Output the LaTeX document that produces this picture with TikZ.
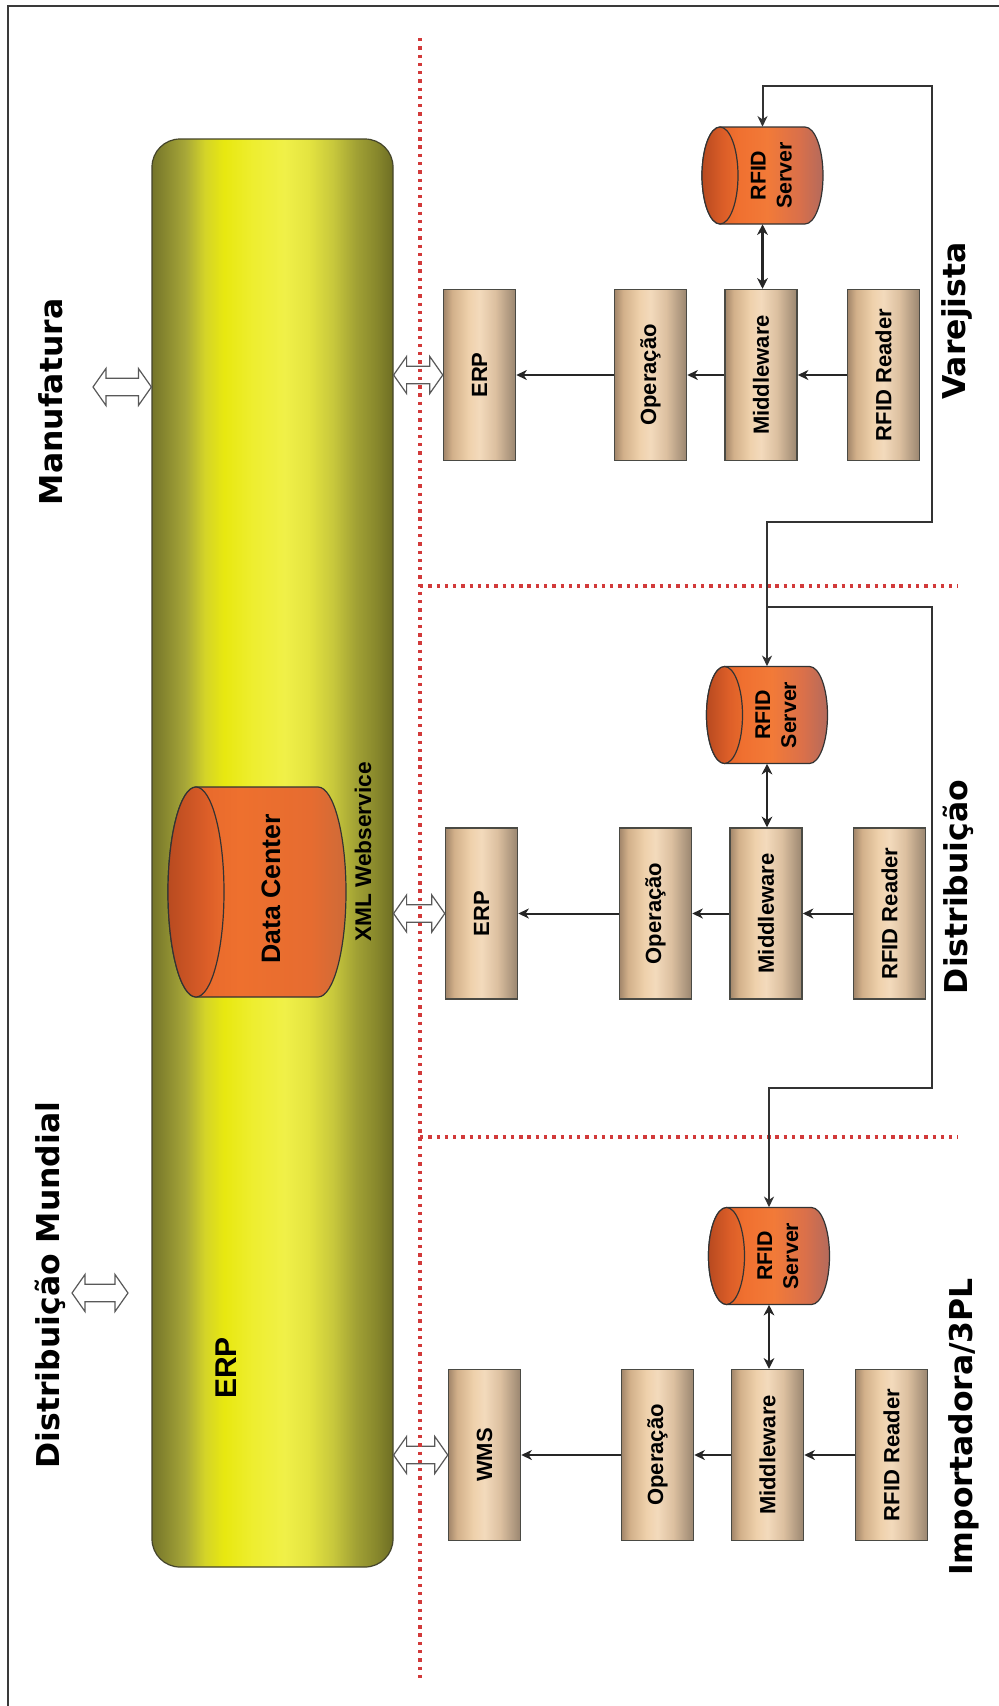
\documentclass[tikz,border=0pt]{standalone}
\usepackage{fontspec}
\usepackage{graphicx}
\setmainfont{Liberation Sans}
\newfontfamily\headfont{DejaVu Sans}
\usetikzlibrary{arrows.meta,calc}

% palette
\definecolor{reddot}{HTML}{D23A3A}
\definecolor{frameline}{HTML}{3A3A3A}
\definecolor{boxline}{HTML}{4A4A44}
\definecolor{barline}{HTML}{44442A}
\definecolor{yb0}{HTML}{74742A}
\definecolor{yb1}{HTML}{8A8A30}
\definecolor{yb2}{HTML}{A8A838}
\definecolor{yb3}{HTML}{D4D428}
\definecolor{yb4}{HTML}{E8E810}
\definecolor{yb5}{HTML}{EEEE30}
\definecolor{yb6}{HTML}{F0F048}
\definecolor{yb7}{HTML}{E4E440}
\definecolor{yb8}{HTML}{C8C83C}
\definecolor{yb9}{HTML}{A0A034}
\definecolor{yb10}{HTML}{88882C}
\definecolor{yb11}{HTML}{6E6E24}
\definecolor{tn0}{HTML}{A2866A}
\definecolor{tn1}{HTML}{D2B08A}
\definecolor{tn2}{HTML}{EFD1AC}
\definecolor{tn3}{HTML}{F3DABC}
\definecolor{tn4}{HTML}{DCC0A0}
\definecolor{tn5}{HTML}{9A8670}
\definecolor{sb0}{HTML}{D85A22}
\definecolor{sb1}{HTML}{F07030}
\definecolor{sb2}{HTML}{F27A38}
\definecolor{sb3}{HTML}{DA704A}
\definecolor{sb4}{HTML}{B46A5C}
\definecolor{sf0}{HTML}{B84A20}
\definecolor{sf1}{HTML}{DC5E28}
\definecolor{sf2}{HTML}{E86A2C}
\definecolor{db0}{HTML}{E2642A}
\definecolor{db1}{HTML}{EE702E}
\definecolor{db2}{HTML}{E66C30}
\definecolor{db3}{HTML}{CE6A38}

% left-to-right shadings (path box maps onto 25bp..75bp)
\pgfdeclarehorizontalshading{erpbar}{100bp}{color(0bp)=(yb0); color(25bp)=(yb0); color(28bp)=(yb1); color(32bp)=(yb2); color(36bp)=(yb3); color(40bp)=(yb4); color(46bp)=(yb5); color(52.5bp)=(yb6); color(57.5bp)=(yb7); color(62.5bp)=(yb8); color(67.5bp)=(yb9); color(71.5bp)=(yb10); color(75bp)=(yb11); color(100bp)=(yb11)}
\pgfdeclarehorizontalshading{tanbox}{100bp}{color(0bp)=(tn0); color(25bp)=(tn0); color(31bp)=(tn1); color(42.5bp)=(tn2); color(50bp)=(tn3); color(61bp)=(tn4); color(75bp)=(tn5); color(100bp)=(tn5)}
\pgfdeclarehorizontalshading{srvbody}{100bp}{color(0bp)=(sb0); color(25bp)=(sb0); color(40bp)=(sb1); color(52bp)=(sb2); color(65bp)=(sb3); color(75bp)=(sb4); color(100bp)=(sb4)}
\pgfdeclarehorizontalshading{srvface}{100bp}{color(0bp)=(sf0); color(25bp)=(sf0); color(55bp)=(sf1); color(75bp)=(sf2); color(100bp)=(sf2)}
\pgfdeclarehorizontalshading{dcbody}{100bp}{color(0bp)=(db0); color(25bp)=(db0); color(45bp)=(db1); color(65bp)=(db2); color(75bp)=(db3); color(100bp)=(db3)}
\pgfdeclarehorizontalshading{dcface}{100bp}{color(0bp)=(sf0); color(25bp)=(sf0); color(60bp)=(sf1); color(75bp)=(sf2); color(100bp)=(sf2)}

% RFID server: horizontal cylinder, end face on the left
\newcommand{\rfidserver}[3]{%
  \begin{scope}[shift={(#2,#3)}]
    \shadedraw[shading=srvbody, cylline] (-42.5,-48.5) -- (42.5,-48.5)
      arc[start angle=-90, end angle=90, x radius=18, y radius=48.5]
      -- (-42.5,48.5)
      arc[start angle=90, end angle=270, x radius=18, y radius=48.5] -- cycle;
    \shadedraw[shading=srvface, cylline] (-42.5,0) ellipse[x radius=18, y radius=48.5];
    \node[srvtext] (#1-t) at (9,0) {RFID\\Server};
    \node[inner sep=0pt, minimum width=90.75pt, minimum height=72.75pt] (#1) at (0,0) {};
  \end{scope}}

% wide hollow double arrow between two points on one row
\newcommand{\hollowarrow}[2]{%
  \draw[hollow] let \p1=(#1), \p2=(#2) in
    (\x1,\y1) -- (\x1+9.75pt,\y1+13.9pt) -- (\x1+9.75pt,\y1+6.6pt)
    -- (\x2-9.75pt,\y2+6.6pt) -- (\x2-9.75pt,\y2+13.9pt) -- (\x2,\y2)
    -- (\x2-9.75pt,\y2-13.9pt) -- (\x2-9.75pt,\y2-6.6pt)
    -- (\x1+9.75pt,\y1-6.6pt) -- (\x1+9.75pt,\y1-13.9pt) -- cycle;}

\begin{document}
\begin{tikzpicture}[x=0.75pt, y=-0.75pt,
  tanbox/.style={draw=boxline, line width=1.1pt, shade, shading=tanbox,
    minimum width=54pt, minimum height=128.25pt, inner sep=0pt,
    font=\bfseries\fontsize{16.5}{18}\selectfont},
  cylline/.style={draw=black!80, line width=0.9pt},
  srvtext/.style={rotate=90, align=center, inner sep=0pt,
    font=\bfseries\fontsize{16}{19.5}\selectfont},
  region/.style={rotate=90, inner sep=0pt,
    font=\headfont\bfseries\fontsize{23.6}{28}\selectfont},
  dotline/.style={draw=reddot, line width=2.5pt, dash pattern=on 2.5pt off 3.7pt},
  flow/.style={draw=black!85, line width=1.5pt,
    -{Stealth[length=8pt, width=7.5pt, inset=2.5pt]}},
  link/.style={draw=black!85, line width=2.2pt,
    {Stealth[length=8pt, width=8pt, inset=2.5pt]}-{Stealth[length=8pt, width=8pt, inset=2.5pt]}},
  bracket/.style={draw=black!80, line width=1.5pt},
  hollow/.style={draw=black!65, line width=0.9pt, fill=white},
]
\useasboundingbox (0,0) rectangle (999,1706);

% frame
\draw[frameline, line width=1.2pt] (999,6) -- (8,6) -- (8,1706);

% central ERP bar
\node[draw=barline, line width=0.9pt, shade, shading=erpbar, rounded corners=21pt,
  minimum width=180.75pt, minimum height=1071pt, inner sep=0pt] (erpbar) at (272.5,853) {};
\node[rotate=90, inner sep=0pt, font=\bfseries\fontsize{22.5}{26}\selectfont] (erplbl) at (226,1368) {ERP};

% data center cylinder
\begin{scope}[shift={(257,892)}]
  \shadedraw[shading=dcbody, cylline] (-61,-105) -- (61,-105)
    arc[start angle=-90, end angle=90, x radius=28, y radius=105]
    -- (-61,105)
    arc[start angle=90, end angle=270, x radius=28, y radius=105] -- cycle;
  \shadedraw[shading=dcface, cylline] (-61,0) ellipse[x radius=28, y radius=105];
\end{scope}
\node[rotate=90, inner sep=0pt, font=\bfseries\fontsize{20}{24}\selectfont] (dc) at (271,889) {Data Center};
\node[rotate=90, inner sep=0pt, font=\bfseries\fontsize{17}{20}\selectfont] (xml) at (363,852) {XML Webservice};

% outside partners
\node[region] (manu) at (50.5,402) {Manufatura};
\node[region] (mundo) at (50,1285) {Distribuição Mundial};
\coordinate (a1) at (93,387);
\coordinate (a2) at (72,1293);
\coordinate (a2r) at (128,1293);
\hollowarrow{a1}{erpbar.west |- a1}
\hollowarrow{a2}{a2r}

% Varejista
\node[tanbox] (vErp) at (479.5,375) {\rotatebox{90}{ERP}};
\node[tanbox] (vOp)  at (650.5,375) {\rotatebox{90}{Operação}};
\node[tanbox] (vMid) at (761,375)   {\rotatebox{90}{Middleware}};
\node[tanbox] (vRdr) at (883.5,375) {\rotatebox{90}{RFID Reader}};
\rfidserver{vSrv}{762.5}{175.5}

% Distribuição
\node[tanbox] (dErp) at (481.5,913.5) {\rotatebox{90}{ERP}};
\node[tanbox] (dOp)  at (655.5,913.5) {\rotatebox{90}{Operação}};
\node[tanbox] (dMid) at (766,913.5)   {\rotatebox{90}{Middleware}};
\node[tanbox] (dRdr) at (889.5,913.5) {\rotatebox{90}{RFID Reader}};
\rfidserver{dSrv}{767}{715}

% Importadora/3PL
\node[tanbox] (iErp) at (484.5,1455) {\rotatebox{90}{WMS}};
\node[tanbox] (iOp)  at (657.5,1455) {\rotatebox{90}{Operação}};
\node[tanbox] (iMid) at (767.5,1455) {\rotatebox{90}{Middleware}};
\node[tanbox] (iRdr) at (891.5,1455) {\rotatebox{90}{RFID Reader}};
\rfidserver{iSrv}{769}{1256}

% ERP bar <-> local systems
\hollowarrow{erpbar.east |- vErp.west}{vErp.west}
\hollowarrow{erpbar.east |- dErp.west}{dErp.west}
\hollowarrow{erpbar.east |- iErp.west}{iErp.west}

% zone separators
\draw[dotline] (420,38) -- (420,1682);
\draw[dotline] (420,586) -- (958,586);
\draw[dotline] (420,1137) -- (958,1137);

% reader -> middleware -> operation -> ERP/WMS
\foreach \z in {v,d,i}{
  \draw[flow] (\z Rdr.west) -- (\z Mid.east);
  \draw[flow] (\z Mid.west) -- (\z Op.east);
  \draw[flow] (\z Op.west) -- (\z Erp.east);
  \draw[link] (\z Srv.south) -- (\z Srv.south |- \z Mid.north);
}

% server to server links
\coordinate (c1) at (932,86);
\coordinate (c2) at (932,522);
\coordinate (c3) at (932,1088);
\path (dSrv.north) ++(0,-59) coordinate (j1);
\draw[bracket, {Stealth[length=8pt, width=7.5pt, inset=2.5pt]}-{Stealth[length=8pt, width=7.5pt, inset=2.5pt]}]
  (vSrv.north) -- (vSrv.north |- c1) -- (c1) -- (c2) -- (c2 -| dSrv.north) -- (dSrv.north);
\draw[bracket, -{Stealth[length=8pt, width=7.5pt, inset=2.5pt]}]
  (j1) -- (j1 -| c3) -- (c3) -- (c3 -| iSrv.north) -- (iSrv.north);

% zone names
\node[region] (zv) at (957,321) {Varejista};
\node[region] (zd) at (958,887) {Distribuição};
\node[region] (zi) at (964,1427) {Importadora/3PL};
\end{tikzpicture}
\end{document}
